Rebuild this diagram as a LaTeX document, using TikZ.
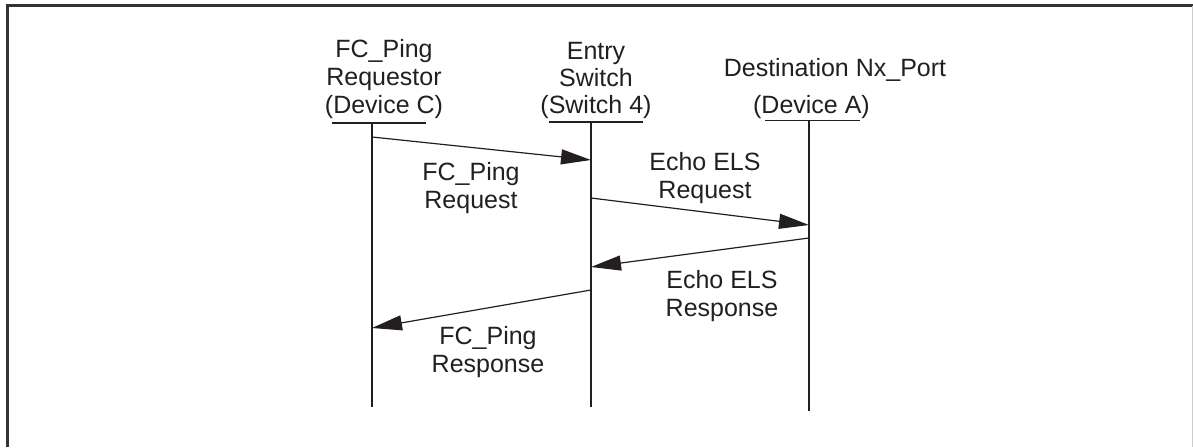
\documentclass[tikz,border=0pt]{standalone}
\usepackage{fontspec}
\setmainfont{Liberation Sans}
\usetikzlibrary{arrows.meta}
\definecolor{ink}{HTML}{231F20}
\definecolor{framec}{HTML}{333333}
\definecolor{edgec}{HTML}{CCCCCC}
\begin{document}
\begin{tikzpicture}[x=1pt,y=-1pt,
  lbl/.style={font=\fontsize{25}{28}\selectfont, text=ink, inner sep=0pt, anchor=base},
  rule/.style={draw=ink, line width=1.2pt},
  msg/.style={draw=ink, line width=1.2pt, -{Triangle[length=30pt,width=15pt]}},
  framebox/.style={draw=framec, line width=3pt},
  edgebox/.style={draw=edgec, line width=1.5pt}]
\useasboundingbox (0,0) rectangle (1193,447);
% frame
\coordinate (fbl) at (7.5,447);
\coordinate (ftl) at (7.5,5.5);
\coordinate (ftr) at (1193,5.5);
\coordinate (etop) at (1192.25,5.5);
\coordinate (ebot) at (1192.25,447);
\draw[framebox] (fbl) -- (ftl) -- (ftr);
\draw[edgebox] (etop) -- (ebot);

% header C
\node[lbl] (c1) at (384,57) {FC\_Ping};
\node[lbl] (c2) at (384,85) {Requestor};
\node[lbl] (c3) at (384,113) {(Device C)};
\coordinate (cuL) at (332,123);
\coordinate (cuR) at (426,123);
\coordinate (ctop) at (372,123);
\coordinate (cbot) at (372,407);
\draw[rule] (cuL) -- (cuR);
\draw[rule] (ctop) -- (cbot);

% header Switch
\node[lbl] (s1) at (596,59) {Entry};
\node[lbl] (s2) at (596,86) {Switch};
\node[lbl] (s3) at (596,113) {(Switch 4)};
\coordinate (suL) at (549,122);
\coordinate (suR) at (643,122);
\coordinate (stop) at (591,122);
\coordinate (sbot) at (591,407);
\draw[rule] (suL) -- (suR);
\draw[rule] (stop) -- (sbot);

% header A
\node[lbl] (a1) at (835,76.5) {Destination Nx\_Port};
\node[lbl] (a2) at (811.5,113) {(Device A)};
\coordinate (auL) at (765,120.5);
\coordinate (auR) at (860,120.5);
\coordinate (atop) at (809,120.5);
\coordinate (abot) at (809,411);
\draw[rule] (auL) -- (auR);
\draw[rule] (atop) -- (abot);

% messages
\coordinate (m1s) at (372,137);
\coordinate (m1e) at (591,160);
\coordinate (m2s) at (591,198);
\coordinate (m2e) at (809,225);
\coordinate (m3s) at (809,238);
\coordinate (m3e) at (591,267);
\coordinate (m4s) at (591,290);
\coordinate (m4e) at (372,328);
\draw[msg] (m1s) -- (m1e);
\draw[msg] (m2s) -- (m2e);
\draw[msg] (m3s) -- (m3e);
\draw[msg] (m4s) -- (m4e);

% message labels
\node[lbl] (l1a) at (471,180) {FC\_Ping};
\node[lbl] (l1b) at (471,208) {Request};
\node[lbl] (l2a) at (705,170) {Echo ELS};
\node[lbl] (l2b) at (705,198) {Request};
\node[lbl] (l3a) at (722,288.5) {Echo ELS};
\node[lbl] (l3b) at (722,316.5) {Response};
\node[lbl] (l4a) at (488,344) {FC\_Ping};
\node[lbl] (l4b) at (488,372) {Response};
\end{tikzpicture}
\end{document}
